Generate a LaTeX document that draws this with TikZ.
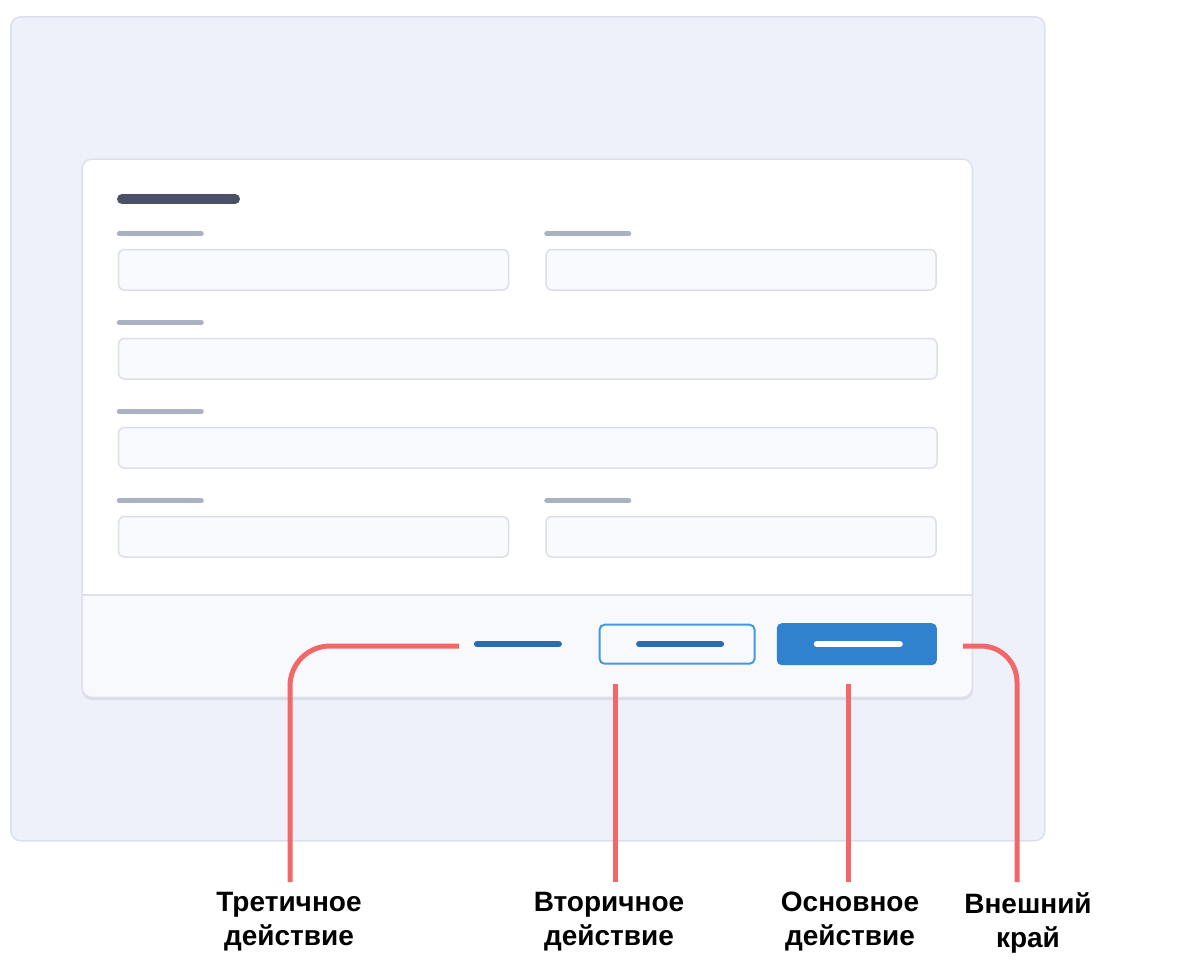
\documentclass[tikz,border=0pt]{standalone}
\usepackage{fontspec}
\setmainfont{Liberation Sans}
\usepackage{xcolor}
\usetikzlibrary{positioning,calc}

\definecolor{panelfill}{HTML}{EEF1F9}
\definecolor{panelline}{HTML}{DCE0EA}
\definecolor{cardline}{HTML}{DDE1E9}
\definecolor{shadowc}{HTML}{D9DDE6}
\definecolor{footfill}{HTML}{F8F9FC}
\definecolor{fieldfill}{HTML}{F9FAFD}
\definecolor{fieldline}{HTML}{DCDFE7}
\definecolor{titlec}{HTML}{4A5068}
\definecolor{captionc}{HTML}{A9B1C3}
\definecolor{blueBtn}{HTML}{3182CE}
\definecolor{blueText}{HTML}{2B6CB0}
\definecolor{blueEdge}{HTML}{4299E1}
\definecolor{leaderc}{HTML}{F26868}

\begin{document}
\begin{tikzpicture}[x=1pt,y=-1pt,
    panel/.style={rectangle, rounded corners=10, fill=panelfill, draw=panelline, line width=1.5, anchor=north west},
    cardbox/.style={rectangle, rounded corners=10, fill=white, anchor=north west},
    field/.style={rectangle, rounded corners=6, fill=fieldfill, draw=fieldline, line width=1.5, minimum height=40.5},
    caption/.style={line width=5, line cap=round, captionc},
    btnline/.style={line width=6, line cap=round},
    leader/.style={line width=5, leaderc},
    callout/.style={font=\fontsize{28}{34}\selectfont\bfseries, align=center, inner sep=0, anchor=north}]
    \useasboundingbox (0,0) rectangle (1200,970);
    \node (panel) [panel, minimum width=1034, minimum height=824] at (10,16) {};

    \fill[shadowc, rounded corners=10] (82,162) rectangle (973,700);
    \node (card) [cardbox, minimum width=890, minimum height=538] at (82,159) {};
    \fill[footfill] (card.west |- 0,595) -- (card.east |- 0,595) {[rounded corners=10] -- (card.south east) -- (card.south west)} -- cycle;
    \draw[cardline, line width=1.5] (card.west |- 0,595) -- (card.east |- 0,595);
    \draw[cardline, line width=1.5, rounded corners=10] (card.north west) rectangle (card.south east);

    \draw[titlec, line width=10, line cap=round] (122,199) -- (235,199);

    \node (nameField) [field, minimum width=390, anchor=north west] at (117.75,248.75) {};
    \node (mailField) [field, minimum width=390, right=36pt of nameField] {};
    \node (addrField) [field, minimum width=818.5, below=47pt of nameField.south west, anchor=north west] {};
    \node (noteField) [field, minimum width=818.5, below=47pt of addrField.south west, anchor=north west] {};
    \node (cityField) [field, minimum width=390, below=47pt of noteField.south west, anchor=north west] {};
    \node (codeField) [field, minimum width=390, right=36pt of cityField] {};
    \foreach \f in {nameField,mailField,addrField,noteField,cityField,codeField}
        \draw[caption] ([xshift=1.5pt,yshift=15pt]\f.north west) -- ++(82,0);

    \node (primaryBtn) [rectangle, rounded corners=5, fill=blueBtn, minimum width=160, minimum height=42, anchor=north east] at (937,623) {};
    \node (secondaryBtn) [rectangle, rounded corners=5, fill=footfill, draw=blueEdge, line width=2, minimum width=155, minimum height=39, left=21pt of primaryBtn] {};
    \node (tertiaryBtn) [rectangle, minimum width=155, minimum height=39, left=3pt of secondaryBtn] {};
    \draw[btnline, white] ([xshift=-40pt]primaryBtn.center) -- ([xshift=43pt]primaryBtn.center);
    \draw[btnline, blueText] ([xshift=-38pt]secondaryBtn.center) -- ([xshift=44pt]secondaryBtn.center);
    \draw[btnline, blueText] ([xshift=-41pt]tertiaryBtn.center) -- ([xshift=41pt]tertiaryBtn.center);

    \node (lblTert) [callout] at (289,892) {Третичное\\действие};
    \node (lblSec) [callout] at (609,892) {Вторичное\\действие};
    \node (lblMain) [callout] at (850,892) {Основное\\действие};
    \node (lblEdge) [callout] at (1028,892) {Внешний\\край};

    \coordinate (tertEnd) at (459,646);
    \coordinate (secEnd) at (615,684);
    \coordinate (mainEnd) at (848,684);
    \coordinate (edgeEnd) at (963,646);

    \draw[leader, rounded corners=40] (tertEnd) -| ([xshift=1pt,yshift=10pt]lblTert.north);
    \draw[leader] (secEnd) -- ([yshift=10pt]secEnd |- lblSec.north);
    \draw[leader] (mainEnd) -- ([yshift=10pt]mainEnd |- lblMain.north);
    \draw[leader, rounded corners=36] (edgeEnd) -| ([xshift=-11pt,yshift=10pt]lblEdge.north);
\end{tikzpicture}
\end{document}
